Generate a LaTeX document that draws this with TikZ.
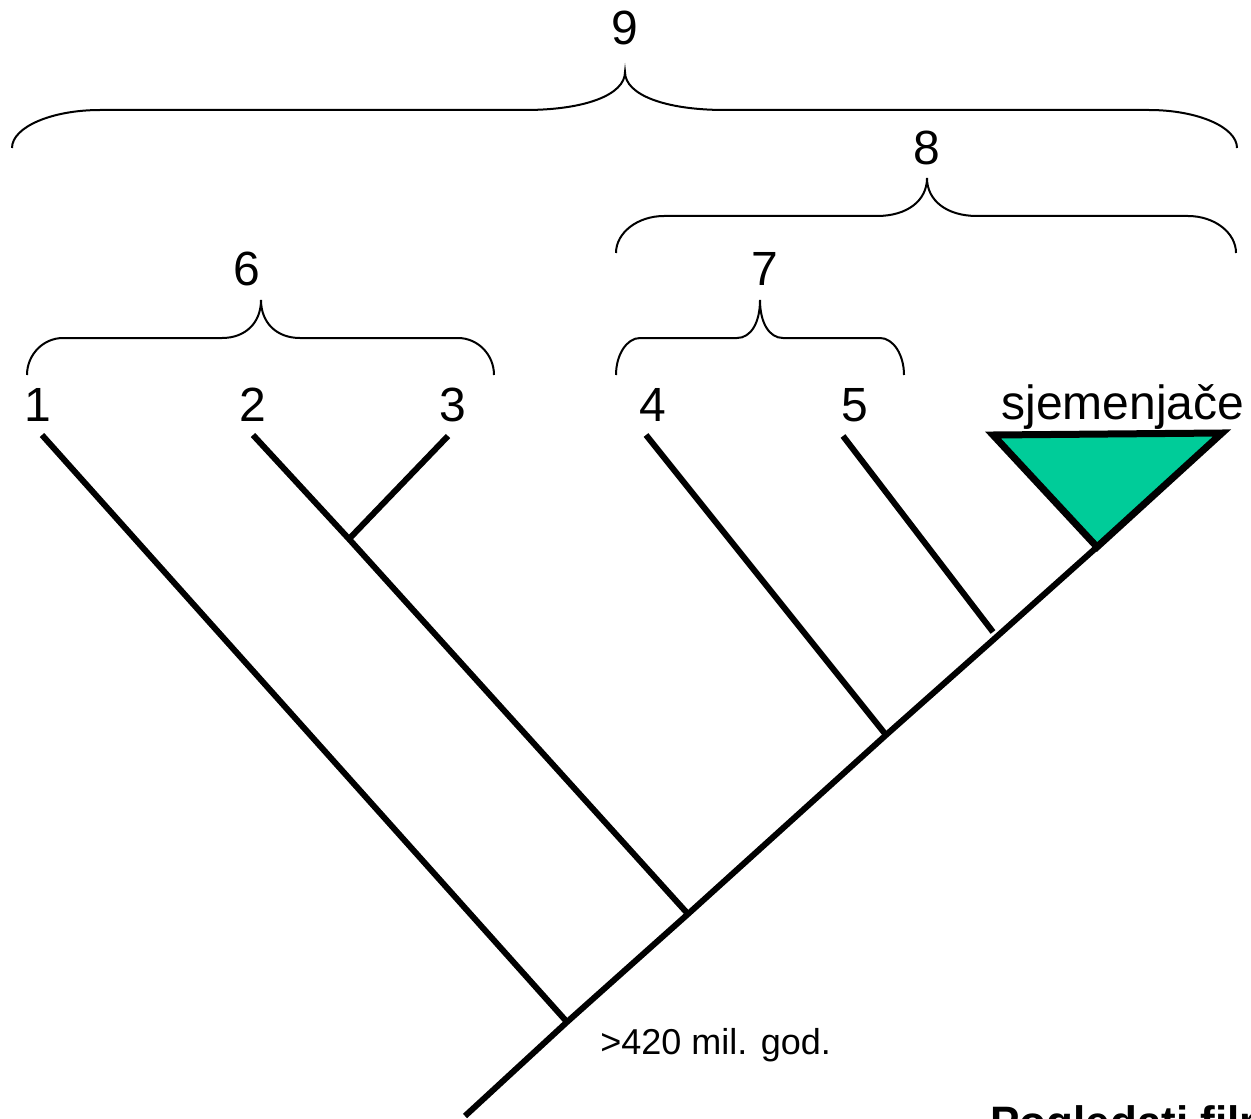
\documentclass[tikz,border=0pt]{standalone}
\usepackage{fontspec}
\setmainfont{Liberation Sans}
\definecolor{seedgreen}{HTML}{00CC99}
\newcommand\cbrace[8]{%
  % #1 xl, #2 xr, #3 yb, #4 yh, #5 xt, #6 yt, #7 corner r, #8 mid m
  \draw[bracestyle] (#1,#3) .. controls (#1,{#3-0.55*(#3-#4)}) and ({#1+0.45*#7},#4) .. ({#1+#7},#4)
    -- ({#5-#8},#4) .. controls ({#5-0.4*#8},#4) and (#5,{#4-0.4*(#4-#6)}) .. (#5,#6)
    .. controls (#5,{#4-0.4*(#4-#6)}) and ({#5+0.4*#8},#4) .. ({#5+#8},#4)
    -- ({#2-#7},#4) .. controls ({#2-0.45*#7},#4) and (#2,{#3-0.55*(#3-#4)}) .. (#2,#3);}
\begin{document}
\begin{tikzpicture}[x=0.5pt,y=-0.5pt,
  bracestyle/.style={line width=1pt},
  branch/.style={line width=3pt},
  lbl/.style={font=\fontsize{24}{28}\selectfont, anchor=base, inner sep=0pt},
  small/.style={font=\fontsize{18}{22}\selectfont, anchor=base west, inner sep=0pt}]
\clip (0,0) rectangle (1251,1118);
\fill[white] (0,0) rectangle (1251,1118);
% tree coordinates
\coordinate (root) at (465,1116);
\coordinate (n1) at (567,1022);
\coordinate (n2) at (688,914);
\coordinate (n4) at (886,735);
\coordinate (n5) at (993,640);
\coordinate (top) at (1097,547);
\coordinate (n3) at (349,539);
\coordinate (e1) at (42,435);
\coordinate (e2) at (253,435);
\coordinate (e3) at (448,436);
\coordinate (e4) at (646,435);
\coordinate (e5) at (843,436);
\coordinate (t1) at (993,435);
\coordinate (t2) at (1222,433);
% branches
\draw[branch] (root) -- (n1) -- (n2) -- (n4) -- (n5) -- (top);
\draw[branch] (e1) -- (n1);
\draw[branch] (e2) -- (n3) -- (n2);
\draw[branch] (e3) -- (n3);
\draw[branch] (e4) -- (n4);
\draw[branch] (e5) -- (993,632);
\filldraw[fill=seedgreen, draw=black, line width=3.5pt] (t1) -- (t2) -- (top) -- cycle;
% labels
\node[lbl] (l1) at (38,421) {1};
\node[lbl] (l2) at (253,421) {2};
\node[lbl] (l3) at (453,421) {3};
\node[lbl] (l4) at (653,421) {4};
\node[lbl] (l5) at (855,421) {5};
\node[lbl] (ls) at (1123,419) {sjemenjače};
\node[lbl] (l6) at (247,285) {6};
\node[lbl] (l7) at (765,285) {7};
\node[lbl] (l8) at (927,165) {8};
\node[lbl] (l9) at (625,45) {9};
\node[small] (age) at (600,1054) {>420 mil. god.};
\node[font=\fontsize{22}{26}\selectfont\bfseries, anchor=base west, inner sep=0pt] (film) at (990,1137) {Pogledati film};
% braces
\cbrace{12}{1237}{148}{110}{625}{72}{88}{100}
\cbrace{616}{1236}{253}{216}{927}{178}{48}{50}
\cbrace{616}{904}{375}{338}{760}{300}{24}{23}
\cbrace{27}{494}{375}{338}{261}{300}{36}{39}
\end{tikzpicture}
\end{document}
